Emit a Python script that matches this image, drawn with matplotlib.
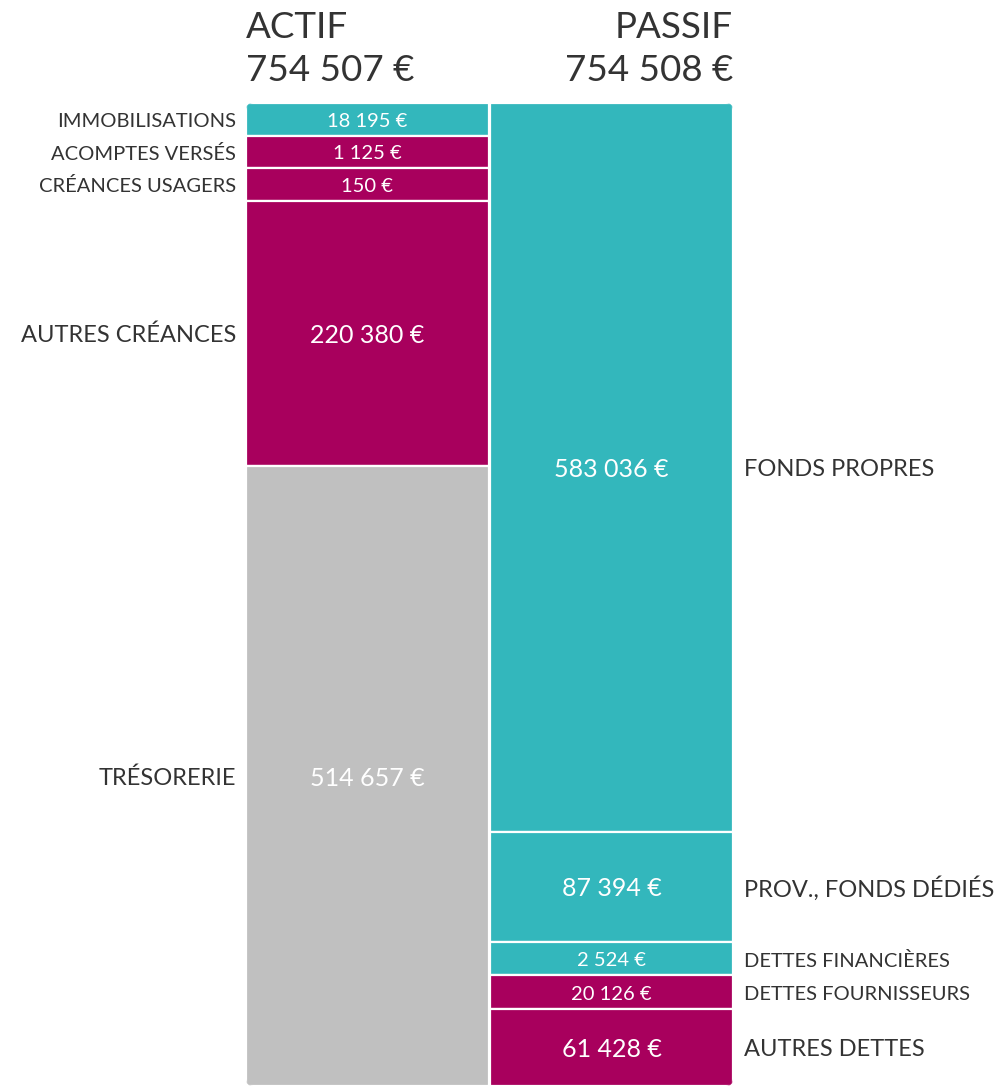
import numpy as np
import matplotlib.pyplot as plt
from matplotlib.patches import FancyBboxPatch

plt.rcParams['font.family'] = ['Lato', 'DejaVu Sans']

# Data
actif_labels = ["IMMOBILISATIONS", "ACOMPTES VERSÉS", "CRÉANCES USAGERS",
                "AUTRES CRÉANCES", "TRÉSORERIE"]
actif_values = [18195, 1125, 150, 220380, 514657]
actif_colors = ["#33b7bc", "#a8005d", "#a8005d", "#a8005d", "#c0c0c0"]

passif_labels = ["FONDS PROPRES", "PROV., FONDS DÉDIÉS", "DETTES FINANCIÈRES",
                 "DETTES FOURNISSEURS", "AUTRES DETTES"]
passif_values = [583036, 87394, 2524, 20126, 61428]
passif_colors = ["#33b7bc", "#33b7bc", "#33b7bc", "#a8005d", "#a8005d"]

actif_total = "754 507 €"
passif_total = "754 508 €"

# small items get a minimum display size so their label fits
MIN_DISPLAY = 27000

# layout (pixels)
W, H = 1006, 1086
TOP, COL_H = 103, 983
X_ACTIF, X_PASSIF, COL_W = 246, 490, 243
TXT = "#333333"


def fmt(v):
    return f"{v:,}".replace(",", " ") + " €"


fig = plt.figure(figsize=(W / 100, H / 100), dpi=100)
ax = fig.add_axes([0, 0, 1, 1])
ax.set_xlim(0, W)
ax.set_ylim(H, 0)
ax.axis("off")

clip = FancyBboxPatch((X_ACTIF, TOP), X_PASSIF + COL_W - X_ACTIF, COL_H,
                      boxstyle="round,pad=0,rounding_size=7",
                      transform=ax.transData, facecolor="none", edgecolor="none")
ax.add_patch(clip)


def draw_column(x0, labels, values, colors, side):
    vals = np.array(values, dtype=float)
    disp = np.maximum(vals, MIN_DISPLAY)
    heights = disp / disp.sum() * COL_H
    bottoms = TOP + np.concatenate([[0], np.cumsum(heights)[:-1]])
    bars = ax.bar(x0 + COL_W / 2, heights, bottom=bottoms, width=COL_W,
                  color=colors, edgecolor="white", linewidth=1.6)
    for b in bars:
        b.set_clip_path(clip)
    for lab, v, h, y in zip(labels, vals, heights, bottoms):
        small = v < MIN_DISPLAY
        yc = y + h / 2 + 2
        ax.text(x0 + COL_W / 2, yc, fmt(int(v)), color="white",
                fontsize=14.5 if small else 18, ha="center", va="center")
        if side == "left":
            ax.text(x0 - 10, yc, lab, color=TXT, fontsize=14.5 if small else 17,
                    ha="right", va="center")
        else:
            ax.text(x0 + COL_W + 11, yc, lab, color=TXT,
                    fontsize=14.5 if small else 17, ha="left", va="center")


draw_column(X_ACTIF, actif_labels, actif_values, actif_colors, "left")
draw_column(X_PASSIF, passif_labels, passif_values, passif_colors, "right")

# headers
ax.text(X_ACTIF, 38, "ACTIF", fontsize=26.5, color=TXT, ha="left", va="baseline")
ax.text(X_ACTIF, 81, actif_total, fontsize=26.5, color=TXT, ha="left", va="baseline")
ax.text(X_PASSIF + COL_W, 38, "PASSIF", fontsize=26.5, color=TXT, ha="right", va="baseline")
ax.text(X_PASSIF + COL_W, 81, passif_total, fontsize=26.5, color=TXT, ha="right", va="baseline")

fig.savefig("out.png", dpi=100)
